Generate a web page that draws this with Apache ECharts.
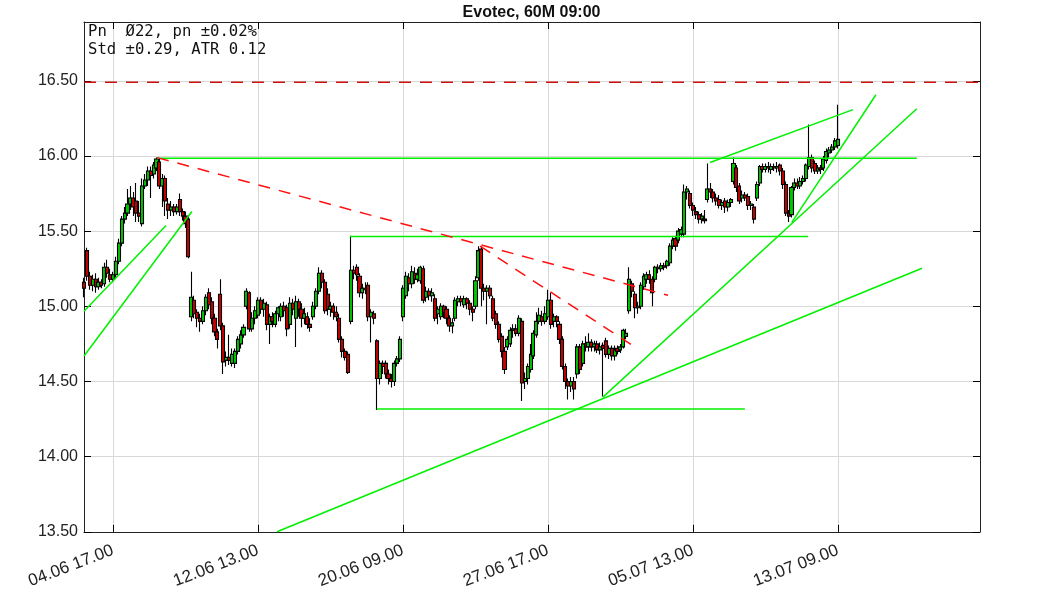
<!DOCTYPE html>
<html>
<head>
<meta charset="utf-8">
<script src="https://cdn.jsdelivr.net/npm/echarts@6/dist/echarts.min.js"></script>
<style>html,body{margin:0;padding:0;background:#fff}#c{width:1063px;height:591px}</style>
</head>
<body>
<div id="c"></div>
<script>
// ---- data ----
const chartTitle = 'Evotec, 60M 09:00';
const infoLines = ['Pn  Ø22, pn ±0.02%', 'Std ±0.29, ATR 0.12'];
const slotCount = 310;                       // hourly slots on the x axis (incl. empty future)
const tickIndex = [10, 60, 110, 160, 210, 260];
const tickLabels = ['04.06 17.00', '12.06 13.00', '20.06 09.00', '27.06 17.00', '05.07 13.00', '13.07 09.00'];
const yTicks = [13.5, 14.0, 14.5, 15.0, 15.5, 16.0, 16.5];
// [open, close, low, high]
const candles = [
[15.16,15.12,15.06,15.19],[15.37,15.20,15.17,15.39],[15.20,15.14,15.11,15.23],[15.14,15.18,15.10,15.21],
[15.18,15.13,15.09,15.22],[15.13,15.16,15.11,15.19],[15.16,15.14,15.12,15.18],[15.15,15.26,15.13,15.29],
[15.26,15.22,15.19,15.31],[15.21,15.18,15.16,15.25],[15.18,15.21,15.16,15.23],[15.21,15.30,15.19,15.33],
[15.30,15.42,15.28,15.45],[15.42,15.58,15.40,15.60],[15.58,15.62,15.55,15.66],[15.62,15.68,15.60,15.78],
[15.68,15.72,15.64,15.80],[15.72,15.66,15.60,15.76],[15.70,15.62,15.56,15.82],[15.62,15.60,15.56,15.70],
[15.55,15.80,15.53,15.85],[15.80,15.84,15.78,15.88],[15.84,15.90,15.80,15.93],[15.90,15.87,15.72,15.93],
[15.88,15.94,15.85,15.96],[15.92,15.98,15.90,15.99],[15.96,15.80,15.78,15.98],[15.80,15.85,15.66,15.88],
[15.85,15.70,15.60,15.87],[15.68,15.64,15.58,15.72],[15.64,15.66,15.60,15.70],[15.66,15.63,15.60,15.68],
[15.63,15.66,15.61,15.68],[15.71,15.63,15.60,15.75],[15.63,15.60,15.57,15.65],[15.60,15.55,15.52,15.63],
[15.58,15.33,15.32,15.60],[14.93,15.06,14.90,15.23],[15.04,14.95,14.92,15.07],[14.96,14.92,14.86,14.98],
[14.92,14.90,14.83,14.95],[14.90,14.97,14.88,15.00],[14.97,15.06,14.94,15.08],[15.09,15.01,14.98,15.12],
[15.03,14.92,14.88,15.06],[14.92,14.83,14.80,14.95],[14.83,14.78,14.72,14.85],[15.08,14.87,14.84,15.18],
[14.87,14.63,14.55,14.89],[14.64,14.66,14.60,14.70],[14.66,14.64,14.61,14.81],[14.62,14.68,14.60,14.72],
[14.62,14.70,14.59,14.72],[14.70,14.78,14.68,14.80],[14.75,14.81,14.72,14.84],[14.81,14.86,14.79,14.88],
[15.00,15.10,14.98,15.12],[15.09,14.85,14.83,15.10],[14.85,14.92,14.83,14.96],[14.92,14.97,14.88,15.00],
[14.94,15.04,14.92,15.06],[15.04,14.98,14.95,15.06],[14.98,15.02,14.93,15.05],[15.01,14.88,14.84,15.03],
[14.88,14.93,14.75,14.95],[14.93,14.90,14.86,14.96],[14.88,14.95,14.86,14.97],[14.95,14.99,14.90,15.00],
[14.93,15.00,14.90,15.02],[15.00,14.97,14.93,15.03],[14.99,14.85,14.80,15.01],[14.88,15.02,14.85,15.06],
[15.02,14.98,14.94,15.05],[14.92,15.03,14.73,15.07],[15.03,14.98,14.93,15.05],[14.98,14.92,14.86,15.02],
[14.92,14.95,14.88,14.99],[14.93,14.88,14.85,14.96],[14.88,14.86,14.83,14.92],[14.93,15.00,14.91,15.03],
[15.00,15.10,14.98,15.12],[15.10,15.22,15.08,15.26],[15.22,15.16,15.12,15.24],[15.16,14.97,14.95,15.18],
[15.08,14.98,14.94,15.12],[14.98,15.00,14.93,15.03],[15.00,14.96,14.91,15.02],[14.96,14.93,14.90,15.00],
[14.92,14.78,14.76,14.95],[14.78,14.70,14.66,14.80],[14.70,14.66,14.64,14.72],[14.68,14.56,14.55,14.70],
[14.90,15.24,14.88,15.47],[15.24,15.22,15.18,15.27],[15.26,15.21,15.17,15.28],[15.20,15.09,15.06,15.22],
[15.09,15.12,15.05,15.15],[15.12,15.11,15.08,15.16],[15.14,14.93,14.90,15.16],[14.93,14.96,14.76,14.98],
[14.95,14.92,14.88,14.97],[14.77,14.52,14.31,14.78],[14.52,14.62,14.48,14.64],[14.62,14.60,14.55,14.64],
[14.62,14.55,14.52,14.64],[14.55,14.52,14.48,14.58],[14.52,14.50,14.46,14.55],[14.50,14.62,14.47,14.64],
[14.62,14.65,14.60,14.67],[14.65,14.78,14.63,14.80],[14.93,15.12,14.90,15.14],[15.07,15.20,15.05,15.23],
[15.19,15.15,15.10,15.22],[15.15,15.23,15.12,15.27],[15.22,15.18,15.15,15.26],[15.18,15.21,15.16,15.25],
[15.17,15.26,15.15,15.27],[15.25,15.04,15.02,15.27],[15.06,15.10,15.03,15.13],[15.10,15.07,15.04,15.12],
[15.07,15.09,15.03,15.12],[15.05,14.92,14.90,15.08],[14.95,14.98,14.88,15.00],[14.93,15.00,14.91,15.02],
[15.00,14.96,14.92,15.01],[14.98,14.92,14.88,15.00],[14.92,14.87,14.83,14.94],[14.87,14.89,14.82,14.92],
[14.92,15.04,14.90,15.06],[15.03,15.05,15.00,15.07],[15.05,15.03,15.00,15.07],[15.01,15.05,14.99,15.07],
[15.05,15.02,14.98,15.06],[15.02,14.98,14.94,15.04],[14.98,14.96,14.90,15.00],[15.00,15.17,14.98,15.20],
[15.19,15.37,15.17,15.40],[15.38,15.12,15.00,15.40],[15.12,15.10,15.04,15.15],[15.10,15.12,14.88,15.14],
[15.12,15.07,15.05,15.14],[15.05,14.92,14.90,15.07],[14.95,14.88,14.85,14.97],[14.88,14.78,14.76,14.90],
[14.80,14.70,14.66,14.82],[14.70,14.58,14.55,14.73],[14.73,14.78,14.71,14.80],[14.75,14.84,14.73,14.86],
[14.84,14.85,14.79,14.88],[14.85,14.82,14.80,14.88],[14.82,14.92,14.80,14.94],[14.90,14.49,14.37,14.92],
[14.50,14.52,14.45,14.56],[14.52,14.60,14.48,14.62],[14.58,14.68,14.56,14.75],[14.67,14.82,14.65,14.84],
[14.81,14.90,14.79,14.96],[14.90,14.94,14.88,14.99],[14.93,14.90,14.87,14.97],[14.90,14.95,14.88,15.00],
[14.93,15.04,14.91,15.11],[15.04,14.88,14.85,15.09],[14.90,14.93,14.86,14.95],[14.93,14.90,14.86,14.94],
[14.88,14.78,14.75,14.90],[14.78,14.60,14.58,14.80],[14.60,14.50,14.45,14.62],[14.50,14.47,14.38,14.52],
[14.47,14.50,14.43,14.53],[14.50,14.45,14.38,14.53],[14.55,14.73,14.52,14.75],[14.73,14.58,14.55,14.75],
[14.62,14.75,14.60,14.77],[14.75,14.73,14.70,14.80],[14.73,14.76,14.70,14.82],[14.76,14.73,14.70,14.78],
[14.73,14.75,14.70,14.77],[14.75,14.71,14.69,14.77],[14.71,14.73,14.68,14.76],[14.74,14.72,14.40,14.76],
[14.77,14.68,14.66,14.79],[14.68,14.72,14.65,14.74],[14.72,14.67,14.64,14.74],[14.67,14.71,14.64,14.74],
[14.72,14.70,14.68,14.74],[14.71,14.73,14.69,14.75],[14.73,14.84,14.72,14.85],[14.80,14.82,14.78,14.85],
[14.97,15.18,14.95,15.26],[15.15,15.10,15.06,15.17],[15.08,14.99,14.92,15.10],[14.99,15.00,14.95,15.03],
[15.00,15.14,14.98,15.16],[15.13,15.20,15.11,15.22],[15.18,15.21,15.15,15.23],[15.21,15.18,15.15,15.24],
[15.18,15.09,15.00,15.20],[15.18,15.26,15.16,15.27],[15.26,15.25,15.22,15.28],[15.25,15.27,15.23,15.29],
[15.27,15.26,15.24,15.29],[15.27,15.30,15.25,15.31],[15.29,15.40,15.27,15.42],[15.40,15.44,15.38,15.46],
[15.45,15.40,15.37,15.47],[15.44,15.50,15.42,15.52],[15.48,15.51,15.46,15.53],[15.48,15.76,15.46,15.81],
[15.76,15.78,15.71,15.80],[15.75,15.67,15.65,15.77],[15.67,15.64,15.60,15.69],[15.63,15.61,15.58,15.66],
[15.61,15.58,15.55,15.63],[15.58,15.60,15.55,15.62],[15.58,15.57,15.55,15.64],[15.71,15.78,15.69,15.95],
[15.78,15.76,15.72,15.82],[15.76,15.72,15.69,15.78],[15.72,15.70,15.67,15.75],[15.71,15.67,15.65,15.74],
[15.67,15.69,15.64,15.71],[15.70,15.66,15.62,15.72],[15.66,15.69,15.63,15.71],[15.69,15.71,15.66,15.72],
[15.83,15.95,15.81,15.99],[15.92,15.79,15.76,15.94],[15.80,15.70,15.68,15.82],[15.72,15.74,15.69,15.77],
[15.74,15.72,15.70,15.76],[15.73,15.67,15.64,15.75],[15.67,15.68,15.64,15.70],[15.66,15.58,15.55,15.68],
[15.72,15.81,15.70,15.83],[15.82,15.93,15.80,15.94],[15.93,15.91,15.89,15.95],[15.91,15.93,15.89,15.95],
[15.93,15.92,15.89,15.96],[15.91,15.93,15.88,15.95],[15.93,15.92,15.90,15.95],[15.92,15.93,15.89,15.96],
[15.94,15.90,15.87,15.95],[15.90,15.81,15.78,15.92],[15.81,15.62,15.60,15.83],[15.62,15.60,15.56,15.64],
[15.61,15.79,15.59,15.80],[15.79,15.82,15.77,15.85],[15.82,15.80,15.78,15.85],[15.80,15.83,15.78,15.86],
[15.83,15.85,15.81,15.87],[15.85,15.94,15.83,15.95],[15.93,15.99,15.91,16.21],[15.99,15.92,15.89,16.01],
[15.95,15.90,15.88,15.97],[15.90,15.92,15.88,15.94],[15.92,15.91,15.88,15.94],[15.92,15.98,15.90,16.00],
[15.97,16.03,15.95,16.05],[16.02,16.04,15.99,16.06],[16.04,16.06,16.02,16.08],[16.06,16.10,16.04,16.12],
[16.07,16.11,16.05,16.34]
];
// trend lines: [[slot, price], [slot, price]]
const greenLines = [
  [[25.2, 15.985], [287.2, 15.985]],
  [[91.7, 15.465], [249.7, 15.465]],
  [[101.0, 14.317], [227.9, 14.317]],
  [[244.1, 15.558], [273.1, 16.407]],
  [[178.97, 14.396], [287.2, 16.314]],
  [[66.55, 13.50], [289.0, 15.253]],
  [[215.9, 15.956], [265.2, 16.308]],
  [[0, 14.967], [28.3, 15.538]],
  [[0, 14.669], [37.2, 15.631]]
];
const redDashLines = [
  [[25.2, 15.989], [201.4, 15.073]],
  [[136.6, 15.40], [189.0, 14.742]]
];
const resistanceLine = [[0, 16.49], [309, 16.49]];
const yMin = 13.5, yMax = 16.891;

// ---- chart ----
const categories = [];
for (let i = 0; i < slotCount; i++) {
  const k = tickIndex.indexOf(i);
  categories.push(k >= 0 ? tickLabels[k] : String(i));
}
const isTick = (idx) => tickIndex.indexOf(idx) >= 0;

const chart = echarts.init(document.getElementById('c'), null, {renderer: 'canvas'});
const series = [{
  type: 'candlestick',
  xAxisIndex: 0, yAxisIndex: 0,
  data: candles,
  barWidth: 3.6,
  z: 2,
  itemStyle: {
    color: '#00c800', color0: '#c80000',
    borderColor: '#000', borderColor0: '#000', borderColorDoji: '#000',
    borderWidth: 1.1
  }
}];
greenLines.forEach(l => series.push({
  type: 'line', xAxisIndex: 1, yAxisIndex: 0, data: l, symbol: 'none', z: 5,
  lineStyle: {color: '#00f000', width: 1.5}, silent: true
}));
redDashLines.forEach(l => series.push({
  type: 'line', xAxisIndex: 1, yAxisIndex: 0, data: l, symbol: 'none', z: 6,
  lineStyle: {color: '#ff1010', width: 1.5, type: [12, 9]}, silent: true
}));
series.push({
  type: 'line', xAxisIndex: 1, yAxisIndex: 0, data: resistanceLine, symbol: 'none', z: 6,
  lineStyle: {color: '#cc1111', width: 1.5, type: [12, 9]}, silent: true
});

const tickStyle = {show: true, inside: true, length: 7, lineStyle: {color: '#000', width: 1}};
chart.setOption({
  animation: false,
  backgroundColor: '#fff',
  title: {
    text: chartTitle, left: 'center', top: 0,
    textStyle: {fontFamily: 'Liberation Sans, Arial', fontWeight: 'bold', fontSize: 16, color: '#111'}
  },
  graphic: [{
    type: 'text', left: 88, top: 23, z: 100,
    style: {text: infoLines.join('\n'), font: '15.6px "DejaVu Sans Mono"', lineHeight: 18, fill: '#111'}
  }],
  grid: {left: 84, right: 83, top: 22, bottom: 58, containLabel: false},
  xAxis: [{
    type: 'category', data: categories, boundaryGap: false, position: 'bottom',
    axisLine: {show: true, onZero: false, lineStyle: {color: '#222', width: 1}},
    axisTick: Object.assign({interval: (i) => isTick(i)}, tickStyle),
    axisLabel: {interval: (i) => isTick(i), rotate: 21, fontSize: 17, color: '#222',
      fontFamily: 'Liberation Sans, Arial', margin: 18},
    splitLine: {show: true, interval: (i) => isTick(i), lineStyle: {color: '#d8d8d8', width: 1}}
  }, {
    type: 'value', min: 0, max: slotCount - 1, show: false
  }, {
    type: 'category', data: categories, boundaryGap: false, position: 'top',
    axisLine: {show: true, onZero: false, lineStyle: {color: '#222', width: 1}},
    axisTick: Object.assign({interval: (i) => isTick(i)}, tickStyle),
    axisLabel: {show: false}, splitLine: {show: false}
  }],
  yAxis: [{
    type: 'value', min: yMin, max: yMax, interval: 0.5, position: 'left',
    axisLine: {show: true, onZero: false, lineStyle: {color: '#222', width: 1}},
    axisTick: tickStyle,
    axisLabel: {formatter: (v) => yTicks.indexOf(Math.round(v * 100) / 100) >= 0 ? v.toFixed(2) : '',
      showMaxLabel: false, fontSize: 16, color: '#222', fontFamily: 'Liberation Sans, Arial', margin: 6},
    splitLine: {show: true, lineStyle: {color: '#d8d8d8', width: 1}}
  }, {
    type: 'value', min: yMin, max: yMax, interval: 0.5, position: 'right',
    axisLine: {show: true, onZero: false, lineStyle: {color: '#222', width: 1}},
    axisTick: tickStyle, axisLabel: {show: false}, splitLine: {show: false}
  }],
  series: series
});
</script>
</body>
</html>
